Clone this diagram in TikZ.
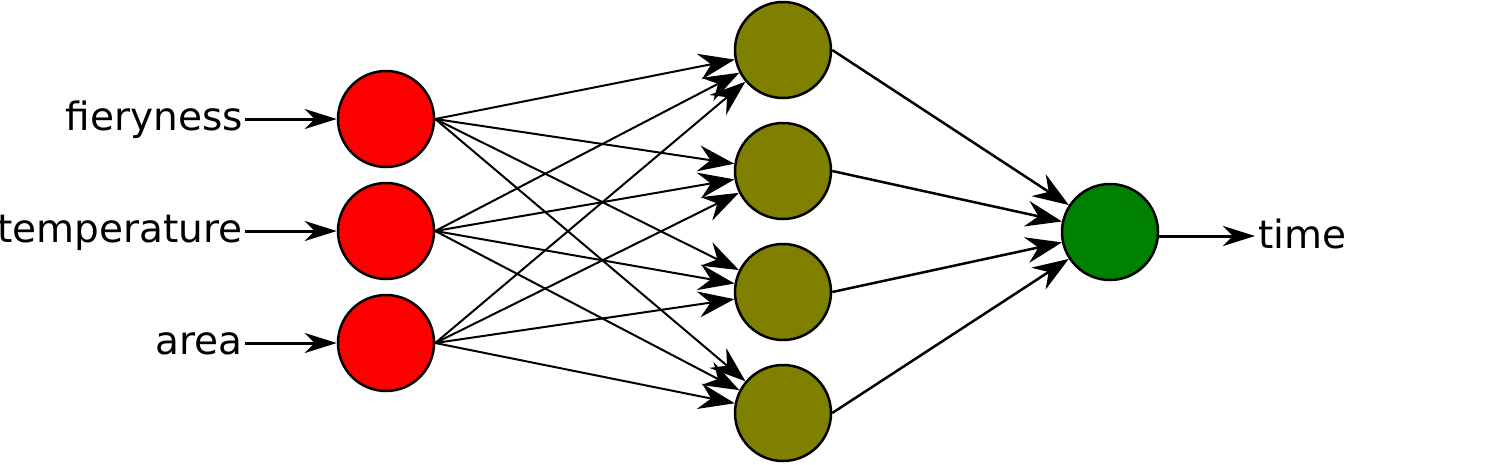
\documentclass[tikz,border=0pt]{standalone}
\usepackage{fontspec}
\setmainfont{DejaVu Sans}
\usetikzlibrary{arrows.meta}
\begin{document}
\begin{tikzpicture}[x=1pt,y=-1pt,
  neuron/.style={circle,draw=black,line width=2.5pt,minimum size=96pt,inner sep=0pt},
  inp/.style={neuron,fill=red},
  hid/.style={neuron,fill={rgb,255:red,128;green,128;blue,0}},
  outn/.style={neuron,fill={rgb,255:red,0;green,128;blue,0}},
  lbl/.style={inner sep=0pt,font=\fontsize{39}{41}\selectfont},
  inarrow/.style={line width=3pt,-{Stealth[length=32pt,width=20pt,inset=10pt]}},
  conn/.style={line width=2pt,-{Stealth[length=36pt,width=26pt,inset=12pt]}},
  oconn/.style={line width=2.5pt,-{Stealth[length=36pt,width=26pt,inset=12pt]}}]
\useasboundingbox (0,0) rectangle (1503,464);
\node[inp] (i1) at (386,119) {};
\node[inp] (i2) at (386,231) {};
\node[inp] (i3) at (386,343) {};
\node[hid] (h1) at (783,50) {};
\node[hid] (h2) at (783,171) {};
\node[hid] (h3) at (783,292) {};
\node[hid] (h4) at (783,413) {};
\node[outn] (o) at (1110,232) {};
\node[lbl,anchor=base east] (t1) at (243,130) {fieryness};
\node[lbl,anchor=base east] (t2) at (243,242) {temperature};
\node[lbl,anchor=base east] (t3) at (243,354) {area};
\node[lbl,anchor=base west] (t4) at (1258,248) {time};
\coordinate (a1) at (245,119);
\coordinate (a2) at (245,231);
\coordinate (a3) at (245,343);
\coordinate (a4) at (1159,236);
\coordinate (b4) at (1255,236);
\draw[inarrow] (a1) -- (i1);
\draw[inarrow] (a2) -- (i2);
\draw[inarrow] (a3) -- (i3);
\foreach \i in {1,2,3}{
  \foreach \h in {1,2,3,4}{
    \draw[conn] (i\i.east) -- (h\h);
  }
}
\foreach \h in {1,2,3,4}{
  \draw[oconn] (h\h.east) -- (o);
}
\draw[inarrow] (a4) -- (b4);
\end{tikzpicture}
\end{document}
